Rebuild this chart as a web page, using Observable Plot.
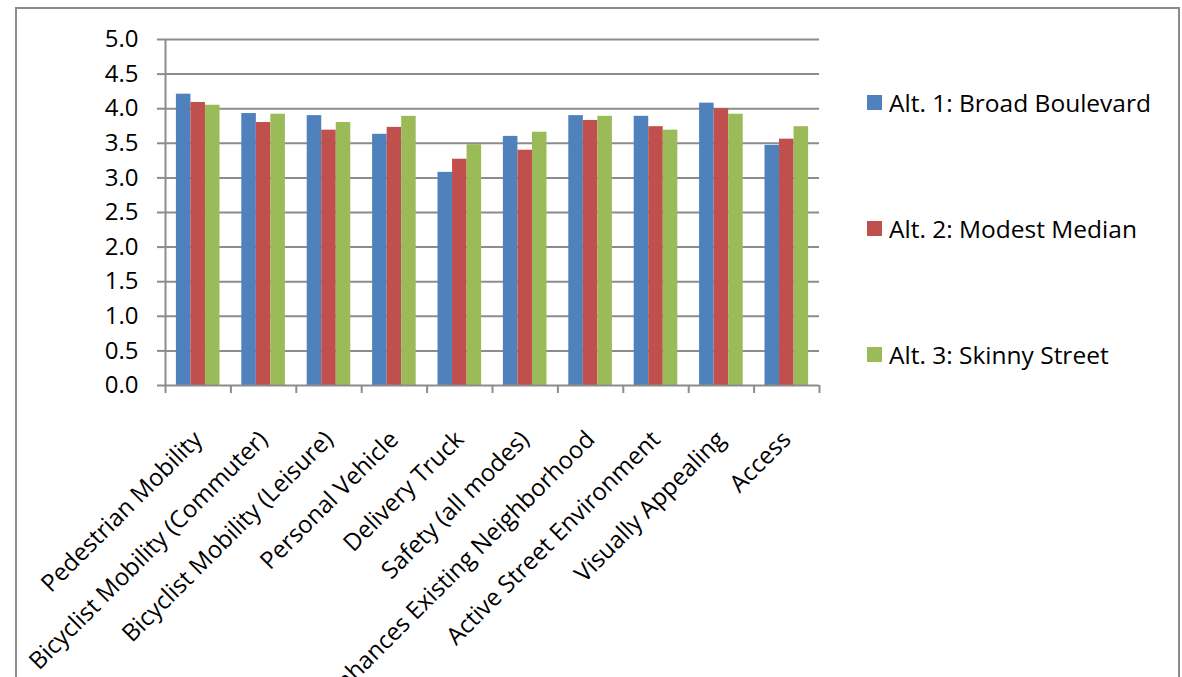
<!DOCTYPE html>
<html>
<head>
<meta charset="utf-8">
<script src="https://cdn.jsdelivr.net/npm/d3@7"></script>
<script src="https://cdn.jsdelivr.net/npm/@observablehq/plot@0.6"></script>
<style>
  html, body { margin: 0; padding: 0; background: #fff; }
  body { width: 1182px; height: 677px; overflow: hidden; position: relative; font-family: "Open Sans", Lato, sans-serif; }
  #frame { position: absolute; left: 15px; top: 7px; width: 1165px; height: 720px; border: 2px solid #8c8c8c; box-sizing: border-box; }
  #chart { position: absolute; left: 0; top: 0; }
  #legend { position: absolute; left: 0; top: 0; }
  .item { position: absolute; left: 867px; display: flex; align-items: center; font-size: 24.5px; color: #000; white-space: nowrap; }
  .swatch { width: 15px; height: 15px; margin-right: 7px; }
</style>
</head>
<body>
<div id="frame"></div>
<div id="chart"></div>
<div id="legend"></div>
<script>
const categories = [
  "Pedestrian Mobility",
  "Bicyclist Mobility (Commuter)",
  "Bicyclist Mobility (Leisure)",
  "Personal Vehicle",
  "Delivery Truck",
  "Safety (all modes)",
  "Enhances Existing Neighborhood",
  "Active Street Environment",
  "Visually Appealing",
  "Access"
];
const seriesNames = ["Alt. 1: Broad Boulevard", "Alt. 2: Modest Median", "Alt. 3: Skinny Street"];
const alt1 = [4.21, 3.93, 3.90, 3.63, 3.08, 3.60, 3.90, 3.89, 4.08, 3.47];
const alt2 = [4.09, 3.80, 3.69, 3.73, 3.27, 3.40, 3.83, 3.74, 4.00, 3.56];
const alt3 = [4.05, 3.92, 3.80, 3.89, 3.48, 3.66, 3.89, 3.69, 3.92, 3.74];
const yTicks = [0, 0.5, 1.0, 1.5, 2.0, 2.5, 3.0, 3.5, 4.0, 4.5, 5.0];
const colors = ["#4F81BD", "#C0504D", "#9BBB59"];

const seriesValues = [alt1, alt2, alt3];
const data = [];
categories.forEach((c, ci) => {
  seriesValues.forEach((vals, si) => {
    data.push({category: c, ci, series: seriesNames[si], si, value: vals[ci]});
  });
});

// Excel-style clustered bars: gap width 150% => bar = 2/9 of category step
const gapHalf = 1 / 6;
const barW = 2 / 9;
const gridColor = "#8c8c8c";

const plot = Plot.plot({
  width: 840,
  height: 677,
  marginLeft: 165,
  marginRight: 21,
  marginTop: 39,
  marginBottom: 292,
  style: {fontFamily: "'Open Sans', Lato, sans-serif", fontSize: "24px", color: "#000", background: "transparent", overflow: "visible"},
  x: {domain: [0, categories.length], axis: null},
  y: {domain: [0, 5], axis: null},
  color: {domain: seriesNames, range: colors},
  marks: [
    Plot.ruleY(yTicks.filter(v => v > 0), {stroke: gridColor, strokeWidth: 2}),
    Plot.rectY(data, {
      x1: d => d.ci + gapHalf + d.si * barW,
      x2: d => d.ci + gapHalf + (d.si + 1) * barW,
      y1: 0,
      y2: "value",
      fill: "series",
      inset: 0
    }),
    Plot.ruleY([0], {stroke: gridColor, strokeWidth: 2}),
    Plot.ruleX([0], {y1: 0, y2: 5, stroke: gridColor, strokeWidth: 2}),
    Plot.axisY({ticks: yTicks, tickSize: 8, tickPadding: 19, tickFormat: d3.format(".1f"), stroke: gridColor, strokeWidth: 2, fill: "#000", label: null}),
    Plot.axisX({ticks: d3.range(categories.length + 1), tickSize: 8, tickFormat: () => "", stroke: gridColor, strokeWidth: 2, label: null}),
    Plot.axisX({
      ticks: categories.map((c, i) => i + 0.5),
      tickSize: 0,
      tickPadding: 50,
      tickRotate: -45,
      tickFormat: v => categories[Math.floor(v)],
      fill: "#000",
      label: null
    })
  ]
});
document.getElementById("chart").append(plot);

const legend = document.getElementById("legend");
seriesNames.forEach((name, i) => {
  const item = document.createElement("div");
  item.className = "item";
  item.style.top = (86 + i * 126) + "px";
  const sw = document.createElement("div");
  sw.className = "swatch";
  sw.style.background = colors[i];
  const label = document.createElement("span");
  label.textContent = name;
  item.append(sw, label);
  legend.append(item);
});
</script>
</body>
</html>
